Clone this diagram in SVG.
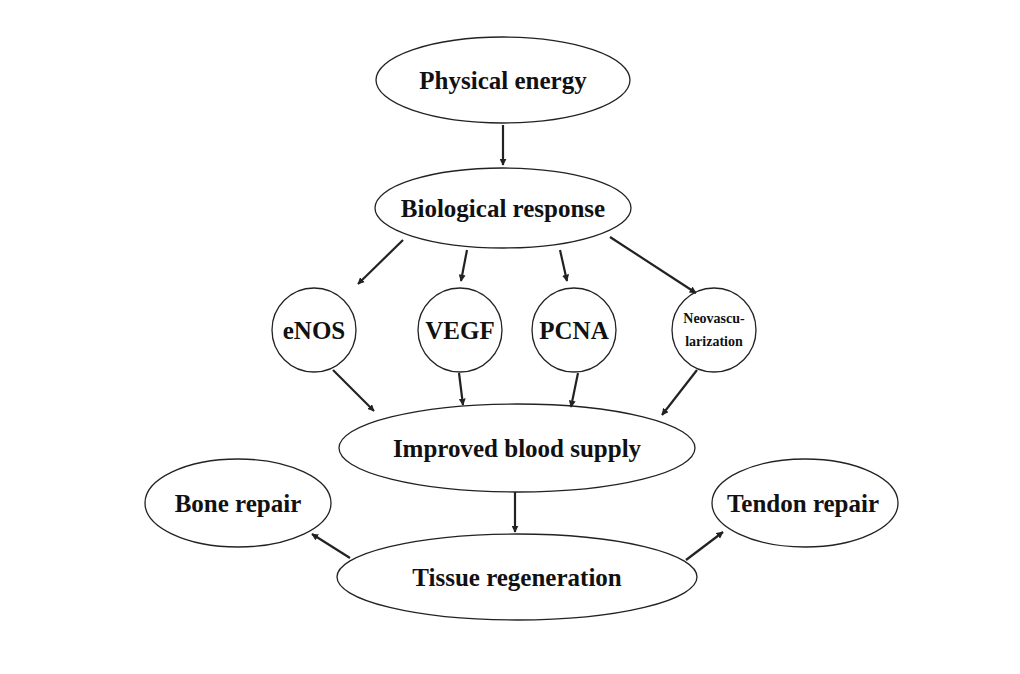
<svg xmlns="http://www.w3.org/2000/svg" width="1020" height="674" viewBox="0 0 1020 674">
<style>
.n{fill:#fff;stroke:#222;stroke-width:1.3}
.t{font-family:"Liberation Serif",serif;font-weight:bold;font-size:25px;fill:#111;text-anchor:middle;dominant-baseline:central}
.c line{stroke:#222;stroke-width:2.2;marker-end:url(#a)}
</style>
<defs><marker id="a" viewBox="0 0 10 10" refX="9" refY="5" markerWidth="7" markerHeight="7" markerUnits="userSpaceOnUse" orient="auto"><path d="M0,0L10,5L0,10z" fill="#222"/></marker>
<marker id="b" viewBox="0 0 10 10" refX="9" refY="5" markerWidth="4.5" markerHeight="4.5" orient="auto"><path d="M0,0L10,5L0,10z" fill="#222"/></marker></defs>
<rect width="1020" height="674" fill="#fff"/>
<g id="physical"><ellipse class="n" cx="503" cy="80" rx="127" ry="43"/><text class="t" x="503" y="80">Physical energy</text></g>
<g id="bio"><ellipse class="n" cx="503" cy="208" rx="128" ry="40"/><text class="t" x="503" y="208">Biological response</text></g>
<g id="enos"><circle class="n" cx="314" cy="330" r="42"/><text class="t" x="314" y="330">eNOS</text></g>
<g id="vegf"><circle class="n" cx="460" cy="330" r="42"/><text class="t" x="460" y="330">VEGF</text></g>
<g id="pcna"><circle class="n" cx="574" cy="330" r="42"/><text class="t" x="574" y="330">PCNA</text></g>
<g id="neo"><circle class="n" cx="714" cy="330" r="42"/><text class="t" x="714" y="318" style="font-size:14px">Neovascu-</text><text class="t" x="714" y="341" style="font-size:14px">larization</text></g>
<g id="blood"><ellipse class="n" cx="517" cy="448" rx="178" ry="44"/><text class="t" x="517" y="448">Improved blood supply</text></g>
<g id="bone"><ellipse class="n" cx="238" cy="503" rx="93" ry="44"/><text class="t" x="238" y="503">Bone repair</text></g>
<g id="tendon"><ellipse class="n" cx="805" cy="503" rx="93" ry="44"/><text class="t" x="803" y="503">Tendon repair</text></g>
<g id="tissue"><ellipse class="n" cx="517" cy="577" rx="180" ry="43"/><text class="t" x="517" y="577">Tissue regeneration</text></g>
<g class="c" id="connectors">
<line x1="503" y1="125" x2="503" y2="165" marker-end="url(#b)"/>
<line x1="403" y1="240" x2="358" y2="284" marker-end="url(#b)"/>
<line x1="467" y1="250" x2="461" y2="281" marker-end="url(#b)"/>
<line x1="560" y1="250" x2="567" y2="281" marker-end="url(#b)"/>
<line x1="610" y1="237" x2="696" y2="293" marker-end="url(#b)"/>
<line x1="333" y1="370" x2="374" y2="411" marker-end="url(#b)"/>
<line x1="459" y1="373" x2="463" y2="405" marker-end="url(#b)"/>
<line x1="578" y1="373" x2="571" y2="407" marker-end="url(#b)"/>
<line x1="697" y1="370" x2="662" y2="415" marker-end="url(#b)"/>
<line x1="515" y1="492" x2="515" y2="532" marker-end="url(#b)"/>
<line x1="350" y1="558" x2="312" y2="534" marker-end="url(#b)"/>
<line x1="686" y1="560" x2="723" y2="532" marker-end="url(#b)"/>
</g>
</svg>
